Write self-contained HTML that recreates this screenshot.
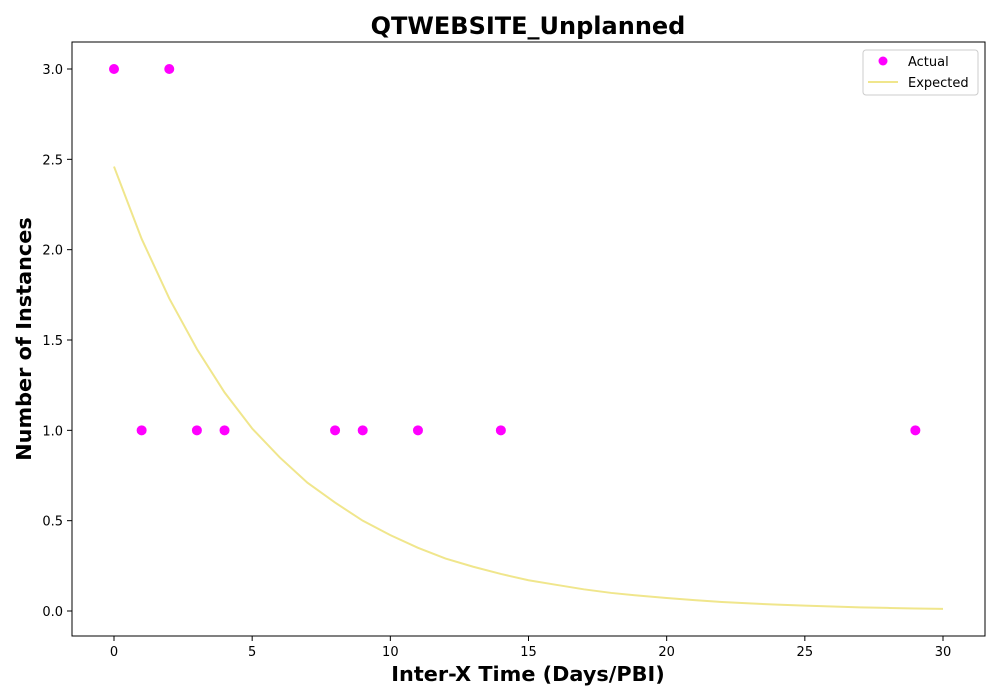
<!DOCTYPE html>
<html><head><meta charset="utf-8"><style>body{margin:0;background:#fff}svg{display:block;font-family:"DejaVu Sans","Liberation Sans",sans-serif}</style></head>
<body>
<svg id="chart" width="1000" height="700">
<rect x="0" y="0" width="1000" height="700" fill="#fff"/>
<text x="528" y="34" text-anchor="middle" font-size="24" font-weight="bold">QTWEBSITE_Unplanned</text>
<g id="grid"></g>
<g id="marks"></g>
<rect x="72" y="42" width="913" height="594" fill="none" stroke="#000" stroke-width="1"/>
<text x="528" y="681" text-anchor="middle" font-size="20.8" font-weight="bold">Inter-X Time (Days/PBI)</text>
<text transform="translate(31,339) rotate(-90)" text-anchor="middle" font-size="20.8" font-weight="bold">Number of Instances</text>
<g>
<rect x="863" y="50" width="115" height="45" rx="3" fill="#fff" stroke="#ccc"/>
<circle cx="883" cy="61" r="4.5" fill="#ff00ff"/>
<text x="908" y="66" font-size="13">Actual</text>
<line x1="868" y1="82" x2="898" y2="82" stroke="#f0e68c" stroke-width="2"/>
<text x="908" y="87" font-size="13">Expected</text>
</g>
</svg>
<script>
const actualX = [0,1,2,3,4,8,9,11,14,29];
const actualY = [3,1,3,1,1,1,1,1,1,1];
const expectedX = [0,1,2,3,4,5,6,7,8,9,10,11,12,13,14,15,16,17,18,19,20,21,22,23,24,25,26,27,28,29,30];
const expectedY = [2.46,2.06,1.73,1.45,1.21,1.01,0.85,0.71,0.60,0.50,0.42,0.35,0.29,0.245,0.205,0.17,0.145,0.12,0.10,0.085,0.072,0.06,0.05,0.042,0.035,0.03,0.025,0.02,0.017,0.014,0.012];
const xTicks = [0,5,10,15,20,25,30];
const yTicks = [0,0.5,1,1.5,2,2.5,3];

const NS="http://www.w3.org/2000/svg";
const xs=v=>114+v*(943-114)/30;
const ys=v=>611-v*(611-69)/3;
function mk(t,a,p){const e=document.createElementNS(NS,t);for(const k in a)e.setAttribute(k,a[k]);p.appendChild(e);return e;}
const g=document.getElementById('grid'), m=document.getElementById('marks');
xTicks.forEach(t=>{
  const l=mk('line',{x1:xs(t),x2:xs(t),y1:636,y2:641,stroke:'#000'},g);
  
  
  const tx=mk('text',{x:xs(t),y:656,'text-anchor':'middle','font-size':13},g);tx.textContent=t;
  
  
});
yTicks.forEach(t=>{
  const l=mk('line',{x1:67,x2:72,y1:ys(t),y2:ys(t),stroke:'#000'},g);
  
  
  const tx=mk('text',{x:63,y:ys(t)+5,'text-anchor':'end','font-size':13},g);tx.textContent=t.toFixed(1);
  
  
});
const pl=mk('polyline',{points:expectedX.map((x,i)=>xs(x)+','+ys(expectedY[i])).join(' '),fill:'none',stroke:'#f0e68c','stroke-width':2},m);


actualX.forEach((x,i)=>{
  const c=mk('circle',{cx:xs(x),cy:ys(actualY[i]),r:5,fill:'#ff00ff'},m);
  
  
});
</script>
</body></html>
